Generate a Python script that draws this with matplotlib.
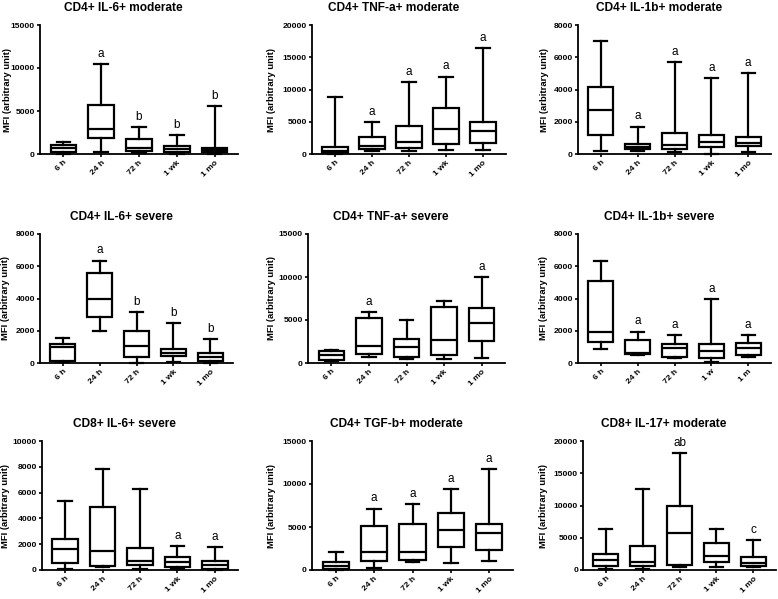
import numpy as np
import matplotlib
matplotlib.use("Agg")
import matplotlib.pyplot as plt

plt.rcParams['font.family'] = ['Liberation Sans', 'DejaVu Sans']

titles = ["CD4+ IL-6+ moderate", "CD4+ TNF-a+ moderate", "CD4+ IL-1b+ moderate",
          "CD4+ IL-6+ severe", "CD4+ TNF-a+ severe", "CD4+ IL-1b+ severe",
          "CD8+ IL-6+ severe", "CD4+ TGF-b+ moderate", "CD8+ IL-17+ moderate"]
times = ["6 h", "24 h", "72 h", "1 wk", "1 mo"]
times_short = ["6 h", "24 h", "72 h", "1 w", "1 m"]
ymax = [15000, 20000, 8000, 8000, 15000, 8000, 10000, 15000, 20000]
ystep = [5000, 5000, 2000, 2000, 5000, 2000, 2000, 5000, 5000]

# box stats per panel, one value per time point
whis_lo = [[50, 200, 100, 50, 50],
           [0, 400, 500, 600, 600],
           [200, 200, 100, 0, 150],
           [50, 2000, 0, 50, 0],
           [200, 700, 450, 450, 550],
           [850, 500, 300, 50, 350],
           [100, 200, 100, 50, 0],
           [0, 200, 900, 850, 1100],
           [100, 100, 500, 400, 400]]
q1 = [[200, 1900, 400, 200, 200],
      [100, 800, 900, 1500, 1700],
      [1150, 300, 300, 450, 500],
      [150, 2850, 350, 450, 100],
      [300, 1000, 750, 900, 2600],
      [1300, 550, 400, 300, 500],
      [550, 300, 400, 250, 100],
      [150, 1100, 1150, 2650, 2300],
      [650, 650, 800, 1300, 600]]
med = [[650, 2900, 650, 600, 450],
       [500, 1300, 1800, 3800, 3500],
       [2700, 450, 550, 750, 700],
       [1000, 4000, 1050, 650, 400],
       [950, 2000, 1900, 2700, 4600],
       [1900, 600, 950, 750, 900],
       [1650, 1500, 700, 650, 350],
       [500, 2050, 2050, 4600, 4350],
       [1500, 1200, 5800, 2100, 1100]]
q3 = [[1100, 5700, 1700, 950, 750],
      [1100, 2700, 4400, 7100, 4900],
      [4150, 600, 1300, 1150, 1050],
      [1200, 5600, 2000, 850, 600],
      [1350, 5200, 2800, 6500, 6400],
      [5100, 1400, 1200, 1200, 1250],
      [2400, 4850, 1700, 1000, 700],
      [900, 5150, 5400, 6650, 5300],
      [2500, 3700, 10000, 4200, 2000]]
whis_hi = [[1450, 10500, 3150, 2200, 5600],
           [8800, 4900, 11100, 12000, 16400],
           [7000, 1700, 5700, 4700, 5000],
           [1550, 6350, 3150, 2450, 1500],
           [1500, 5900, 5000, 7200, 10000],
           [6350, 1950, 1750, 3950, 1750],
           [5350, 7800, 6250, 1850, 1750],
           [2100, 7150, 7700, 9400, 11700],
           [6400, 12600, 18100, 6300, 4700]]
letters = [["", "a", "b", "b", "b"],
           ["", "a", "a", "a", "a"],
           ["", "a", "a", "a", "a"],
           ["", "a", "b", "b", "b"],
           ["", "a", "", "", "a"],
           ["", "a", "a", "a", "a"],
           ["", "", "", "a", "a"],
           ["", "a", "a", "a", "a"],
           ["", "", "ab", "", "c"]]

W, H = 778, 599
# axes rectangles in pixels: left, right, top, bottom
rects = [(40, 238, 25, 154), (312, 506, 25, 154), (578, 771, 25, 154),
         (40, 233, 234, 363), (308, 505, 234, 363), (578, 771, 234, 363),
         (42, 238, 441, 570), (312, 513, 441, 570), (583, 776, 441, 570)]
# distance of the y label centre left of the spine, pixels
label_off = [32, 40, 33, 34, 36, 34, 36, 39.5, 39]

fig = plt.figure(figsize=(W / 100, H / 100), dpi=100)

for k in range(9):
    l, r, t, b = rects[k]
    ax = fig.add_axes([l / W, 1 - b / H, (r - l) / W, (b - t) / H])
    stats = []
    for i in range(5):
        stats.append(dict(med=med[k][i], q1=q1[k][i], q3=q3[k][i],
                          whislo=whis_lo[k][i], whishi=whis_hi[k][i], fliers=[]))
    pos = np.arange(5)
    lw = 1.6
    ax.bxp(stats, positions=pos, widths=0.68, capwidths=0.36, showfliers=False,
           patch_artist=True,
           boxprops=dict(facecolor="white", edgecolor="black", linewidth=lw),
           medianprops=dict(color="black", linewidth=lw),
           whiskerprops=dict(color="black", linewidth=lw),
           capprops=dict(color="black", linewidth=lw))
    for i in range(5):
        if letters[k][i]:
            ax.annotate(letters[k][i], (pos[i], whis_hi[k][i]), xytext=(0, 3),
                        textcoords="offset points", ha="center", va="bottom",
                        fontsize=8.5)
    ax.set_xlim(-0.62, 4.62)
    ax.set_ylim(0, ymax[k])
    ax.set_yticks(np.arange(0, ymax[k] + 1, ystep[k]))
    ax.set_xticks(pos)
    ax.set_xticklabels(times_short if k == 5 else times, rotation=45,
                       ha="right", rotation_mode="anchor")
    for lab in ax.get_xticklabels() + ax.get_yticklabels():
        lab.set_fontweight("bold")
        lab.set_fontsize(6.1)
    ax.tick_params(axis="both", length=2.3, width=1.2, pad=1.3)
    ax.spines["top"].set_visible(False)
    ax.spines["right"].set_visible(False)
    ax.spines["left"].set_linewidth(1.3)
    ax.spines["bottom"].set_linewidth(1.3)
    ax.set_ylabel("MFI (arbitrary unit)", fontsize=6.8, fontweight="bold")
    ax.yaxis.set_label_coords(-(label_off[k] - 4) / (r - l), 0.5)
    ax.set_title(titles[k], fontsize=8.6, fontweight="bold", x=0.42, pad=10)
    for c in ax.get_children():
        if hasattr(c, "set_clip_on"):
            c.set_clip_on(False)

fig.savefig("out.png", dpi=100)
